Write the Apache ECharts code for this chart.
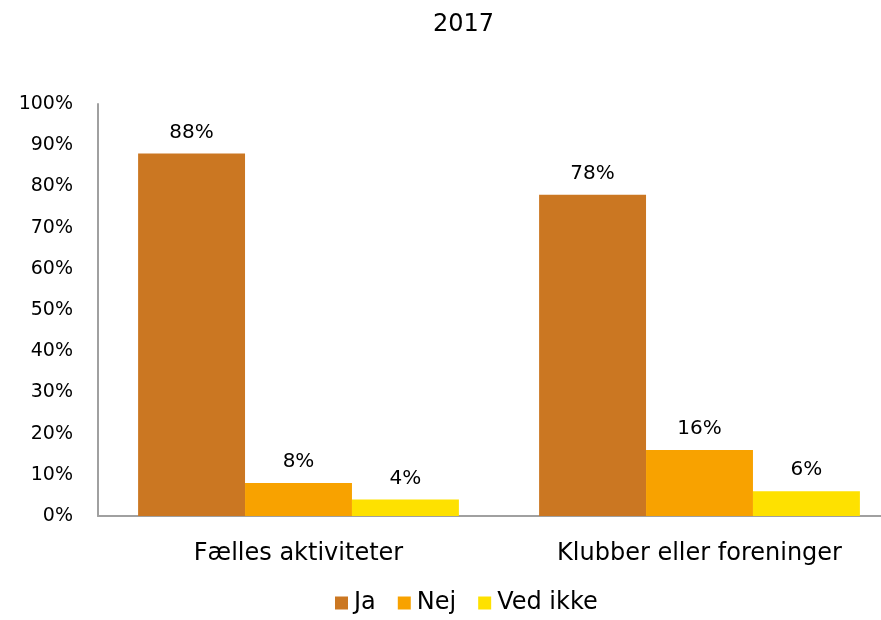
<!DOCTYPE html>
<html>
<head>
<meta charset="utf-8">
<script src="https://cdn.jsdelivr.net/npm/echarts@6/dist/echarts.min.js"></script>
<style>
  html, body { margin: 0; padding: 0; background: #fff; overflow: hidden; }
  /* plot runs past the right edge in the original, so the canvas is a bit wider than the window */
  #chart { width: 900px; height: 620px; }
</style>
</head>
<body>
<div id="chart"></div>
<script>
const categories = ['Fælles aktiviteter', 'Klubber eller foreninger'];
const seriesNames = ['Ja', 'Nej', 'Ved ikke'];
const jaValues = [88, 78];
const nejValues = [8, 16];
const vedIkkeValues = [4, 6];
const colors = ['#CB7722', '#F8A200', '#FEE100'];

const font = 'DejaVu Sans';
const chart = echarts.init(document.getElementById('chart'));

function barSeries(name, data, color) {
    return {
        name: name,
        type: 'bar',
        data: data,
        barGap: '0%',
        barCategoryGap: '20%',
        itemStyle: { color: color },
        label: {
            show: true,
            position: 'top',
            distance: 11,
            formatter: '{c}%',
            color: '#000',
            fontFamily: font,
            fontSize: 20
        }
    };
}

chart.setOption({
    animation: false,
    title: {
        text: '2017',
        left: 428,
        top: 8,
        textStyle: { fontFamily: font, fontSize: 24, fontWeight: 'normal', color: '#000' }
    },
    legend: {
        data: seriesNames,
        top: 591,
        left: 335,
        padding: 0,
        icon: 'rect',
        itemWidth: 13,
        itemHeight: 13,
        itemGap: 22,
        textStyle: { fontFamily: font, fontSize: 24, color: '#000', padding: [0, 0, 0, 1] }
    },
    grid: { left: 98, right: 0, top: 104, bottom: 104, containLabel: false },
    xAxis: {
        type: 'category',
        data: categories,
        axisLine: { lineStyle: { color: '#A0A0A0', width: 2 } },
        axisTick: { show: false },
        axisLabel: { fontFamily: font, fontSize: 24, color: '#000', margin: 26 }
    },
    yAxis: {
        type: 'value',
        min: 0,
        max: 100,
        interval: 10,
        splitLine: { show: false },
        axisLine: { show: true, lineStyle: { color: '#A0A0A0', width: 2 } },
        axisTick: { show: false },
        axisLabel: { formatter: '{value}%', fontFamily: font, fontSize: 19, color: '#000', margin: 25 }
    },
    series: [
        barSeries(seriesNames[0], jaValues, colors[0]),
        barSeries(seriesNames[1], nejValues, colors[1]),
        barSeries(seriesNames[2], vedIkkeValues, colors[2])
    ]
});
</script>
</body>
</html>
